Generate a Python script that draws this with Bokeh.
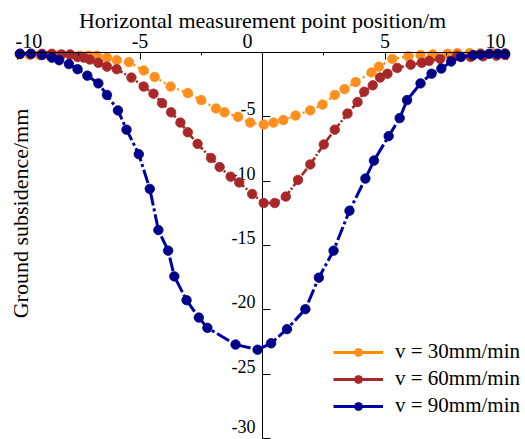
import math
from bokeh.plotting import figure
from bokeh.models import (Range1d, FixedTicker, Label, LabelSet, ColumnDataSource,
                          Legend, LegendItem)
from bokeh.embed import file_html
from bokeh.resources import INLINE

# ---------------- data ----------------
x30 = [-9.9, -9.5, -9.1, -8.7, -8.3, -7.85, -7.45, -7.1, -6.75, -6.35, -5.95, -5.45,
       -4.85, -4.4, -3.75, -3.05, -2.5, -1.9, -1.55, -1.0, -0.5, 0.05, 0.45, 0.85,
       1.35, 1.95, 2.45, 2.95, 3.35, 3.8, 4.45, 4.75, 5.3, 5.95, 6.45, 6.95, 7.55,
       7.95, 8.45, 8.9, 9.4, 9.9]
y30 = [-0.15, -0.2, -0.2, -0.2, -0.2, -0.2, -0.25, -0.25, -0.25, -0.4, -0.6, -0.75,
       -1.4, -1.9, -2.65, -3.15, -3.7, -4.35, -4.65, -5.0, -5.45, -5.6, -5.45, -5.25,
       -4.9, -4.5, -4.05, -3.3, -2.85, -2.3, -1.55, -1.1, -0.5, -0.3, -0.2, -0.15, -0.1,
       -0.05, -0.05, -0.05, -0.05, -0.05]

x60 = [-9.9, -9.45, -9.0, -8.6, -8.2, -7.85, -7.55, -7.3, -7.05, -6.7, -6.35, -5.95,
       -5.35, -4.85, -4.45, -4.1, -3.73, -3.35, -3.05, -2.65, -2.1, -1.75, -1.3, -0.95,
       -0.42, 0.05, 0.5, 0.95, 1.45, 1.95, 2.5, 2.95, 3.47, 3.88, 4.15, 4.5, 4.8, 5.1,
       5.5, 6.05, 6.5, 6.8, 7.25, 7.95, 8.5, 9.0, 9.55, 9.9]
y60 = [-0.1, -0.1, -0.1, -0.1, -0.15, -0.15, -0.35, -0.4, -0.55, -0.8, -1.1, -1.3,
       -1.95, -2.65, -3.2, -3.93, -4.65, -5.45, -6.2, -7.1, -8.2, -8.9, -9.65, -10.1,
       -11.0, -11.7, -11.7, -11.2, -9.9, -8.7, -7.15, -6.0, -4.75, -3.85, -3.05, -2.55,
       -1.95, -1.65, -1.2, -0.95, -0.8, -0.65, -0.5, -0.25, -0.35, -0.3, -0.25, -0.2]

x90 = [-9.9, -9.45, -9.0, -8.6, -8.3, -7.9, -7.55, -7.15, -6.7, -6.35, -5.9, -5.55,
       -5.05, -4.6, -4.25, -3.85, -3.6, -3.1, -2.6, -2.25, -1.1, -0.2, 0.35, 1.0, 1.75,
       2.3, 2.9, 3.55, 4.2, 4.55, 5.15, 5.6, 5.9, 6.45, 6.9, 7.3, 7.7, 8.1, 8.6, 8.9,
       9.25, 9.6, 9.9]
y90 = [-0.1, -0.1, -0.2, -0.4, -0.6, -0.9, -1.3, -1.8, -2.4, -3.3, -4.5, -6.0, -7.9,
       -10.6, -13.8, -15.4, -17.4, -19.25, -20.6, -21.4, -22.7, -23.1, -22.6, -21.5,
       -19.95, -17.5, -15.4, -12.3, -9.8, -8.4, -6.5, -5.1, -3.7, -2.4, -1.65, -1.25,
       -0.7, -0.35, -0.2, -0.15, -0.1, -0.1, -0.1]

series_names = ["v = 30mm/min", "v = 60mm/min", "v = 90mm/min"]
x_ticks = [-10, -5, 0, 5, 10]
x_minor_ticks = [-7.5, -2.5, 2.5, 7.5]
x_tick_labels = ["-10", "-5", "0", "5", "10"]
y_ticks = [-5, -10, -15, -20, -25, -30]
y_tick_labels = ["-5", "-10", "-15", "-20", "-25", "-30"]
x_title = "Horizontal measurement point position/m"
y_title = "Ground subsidence/mm"

# ---------------- style / layout ----------------
FONT = "Liberation Serif"
W, H = 525, 439
line_colors = ["#FF8C00", "#A52A2A", "#0000A8"]
marker_colors = ["#FF8E1C", "#A8282A", "#000088"]
dashes = ["2 3", "8 2 2 2", "14 3 3 3"]
widths = [2.2, 2.6, 3.0]
ylab_offsets = [8, 8, 8, 8, 8, 12]   # last label lifted to stay inside the canvas

# frame covers whole canvas; axes are drawn through the data origin
X_LEFT, X_RIGHT = -10 - 17 / 24.5, 10 + 18 / 24.5
Y_TOP, Y_BOTTOM = 52 / 12.867, -30 - 1 / 12.867

p = figure(width=W, height=H, output_backend="svg", toolbar_location=None,
           x_range=Range1d(X_LEFT, X_RIGHT), y_range=Range1d(Y_BOTTOM, Y_TOP),
           x_axis_location="above",
           min_border_left=0, min_border_right=0, min_border_top=0, min_border_bottom=0)
p.outline_line_color = None
p.grid.visible = False
p.background_fill_color = "white"
p.border_fill_color = "white"

# x axis along y = 0
xa = p.xaxis[0]
xa.fixed_location = 0
xa.bounds = (x_ticks[0], x_ticks[-1])
xa.ticker = FixedTicker(ticks=x_ticks, minor_ticks=x_minor_ticks)
xa.major_label_overrides = {v: "" for v in x_ticks}
xa.major_tick_in = 7
xa.major_tick_out = 0
xa.minor_tick_in = 3
xa.minor_tick_out = 0
xa.axis_line_color = "black"
xa.major_tick_line_color = "black"
xa.minor_tick_line_color = "black"

xlab_style = {"-10": ("left", -2), "-5": ("center", 0), "0": ("center", -15),
              "5": ("center", 0), "10": ("right", -2)}
for xv, txt in zip(x_ticks, x_tick_labels):
    al, dx = xlab_style[txt]
    p.add_layout(Label(x=xv, y=0, text=txt, x_offset=dx, y_offset=11,
                       text_align=al, text_baseline="middle",
                       text_font=FONT, text_font_size="20px", text_color="black"))

p.add_layout(Label(x=262, y=H - 20, x_units="screen", y_units="screen", text=x_title,
                   text_align="center", text_baseline="middle",
                   text_font=FONT, text_font_size="22px", text_color="black"))

# y axis through x = 0
ya = p.yaxis[0]
ya.fixed_location = 0
ya.bounds = (y_ticks[-1], 0)
ya.ticker = FixedTicker(ticks=y_ticks, minor_ticks=[])
ya.major_label_overrides = {v: "" for v in y_ticks}
ya.major_tick_in = 8
ya.major_tick_out = 0
ya.minor_tick_line_color = None
ya.axis_line_color = "black"
ya.major_tick_line_color = "black"
ya.level = "underlay"

ysrc = ColumnDataSource(dict(x=[0] * len(y_ticks), y=y_ticks, text=y_tick_labels,
                             dy=ylab_offsets))
p.add_layout(LabelSet(x="x", y="y", text="text", source=ysrc, x_offset=-7, y_offset="dy",
                      text_align="right", text_baseline="middle", level="underlay",
                      text_font=FONT, text_font_size="18px", text_color="black"))

p.add_layout(Label(x=20, y=H - 213, x_units="screen", y_units="screen", text=y_title,
                   angle=math.pi / 2, text_align="center", text_baseline="middle",
                   text_font=FONT, text_font_size="22px", text_color="black"))

# series
nan = float("nan")
items = []
for xs, ys, name, lc, mc, dash, w in zip([x30, x60, x90], [y30, y60, y90], series_names,
                                          line_colors, marker_colors, dashes, widths):
    src = ColumnDataSource(dict(x=xs, y=ys))
    p.line("x", "y", source=src, line_color=lc, line_width=w, line_dash=dash)
    sr = p.scatter("x", "y", source=src, marker="circle", size=9.5,
                   fill_color=mc, line_color=mc, line_width=0.8)
    # solid line used only for the legend sample (no visible data)
    leg_line = p.line(x=[nan], y=[nan], line_color=lc, line_width=3)
    items.append(LegendItem(label=name, renderers=[leg_line, sr]))

legend = Legend(items=items, location=(333, 21), margin=0, padding=0, spacing=2,
                glyph_width=50, glyph_height=20, label_standoff=12,
                label_text_font=FONT, label_text_font_size="21px",
                label_text_color="black", border_line_color=None,
                background_fill_alpha=0)
p.add_layout(legend)

open("out.html", "w").write(file_html(p, INLINE))
